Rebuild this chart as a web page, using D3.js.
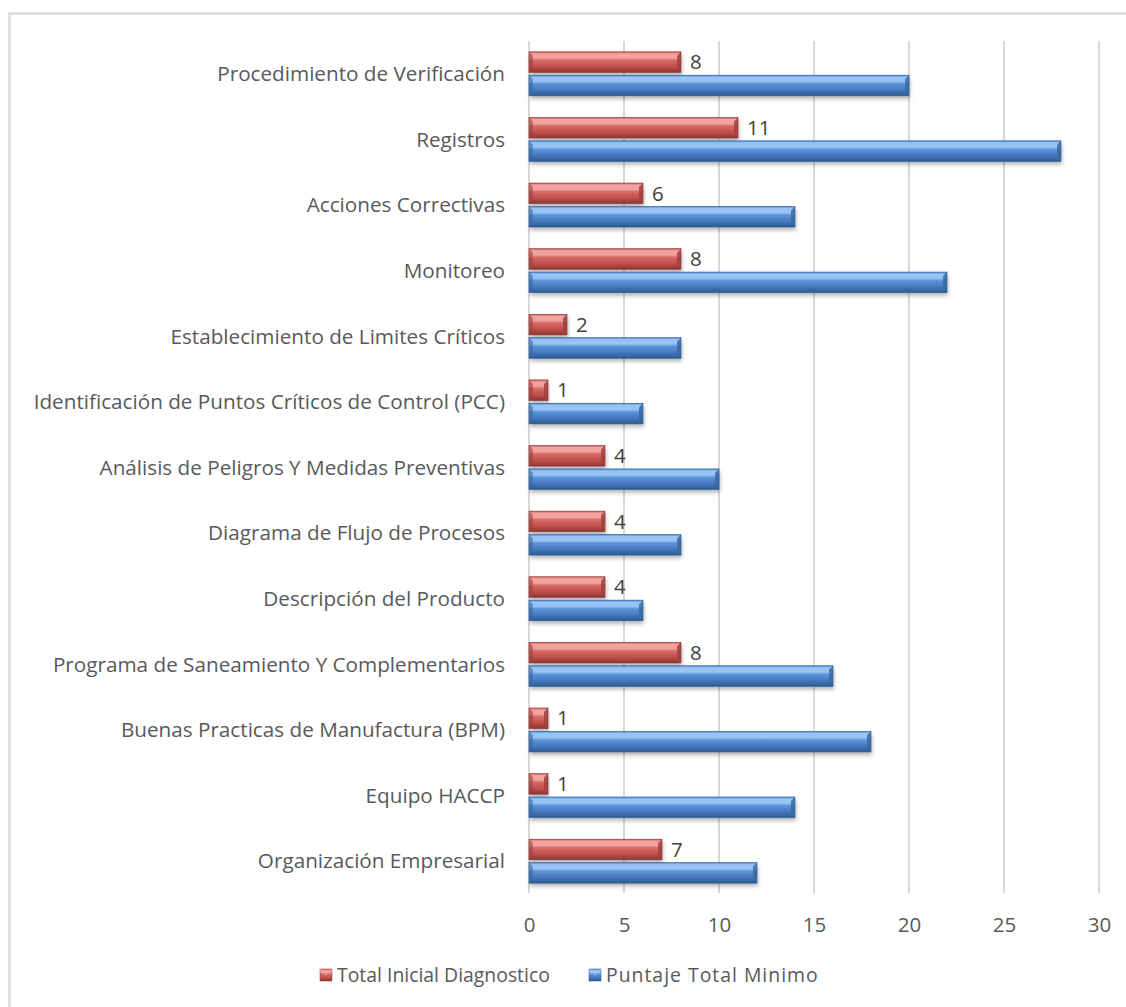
<!DOCTYPE html>
<html>
<head>
<meta charset="utf-8">
<script src="https://cdn.jsdelivr.net/npm/d3@7"></script>
<style>
  body { margin: 0; background: #fff; }
  text { font-family: "Open Sans", sans-serif; }
</style>
</head>
<body>
<script>
const width = 1126;
const height = 1007;

// data, top to bottom as drawn
const categories = [
    'Procedimiento de Verificación',
    'Registros',
    'Acciones Correctivas',
    'Monitoreo',
    'Establecimiento de Limites Críticos',
    'Identificación de Puntos Críticos de Control (PCC)',
    'Análisis de Peligros Y Medidas Preventivas',
    'Diagrama de Flujo de Procesos',
    'Descripción del Producto',
    'Programa de Saneamiento Y Complementarios',
    'Buenas Practicas de Manufactura (BPM)',
    'Equipo HACCP',
    'Organización Empresarial'
];
const series_names = ['Total Inicial Diagnostico', 'Puntaje Total Minimo'];
const total_inicial = [8, 11, 6, 8, 2, 1, 4, 4, 4, 8, 1, 1, 7];
const puntaje_minimo = [20, 28, 14, 22, 8, 6, 10, 8, 6, 16, 18, 14, 12];
const x_ticks = [0, 5, 10, 15, 20, 25, 30];

const palettes = {
    red:  { edge: '#c65a57', light: '#f2a3a0', top: '#d66a67', mid: '#c0504d', dark: '#8b3532', cap: '#a3403d' },
    blue: { edge: '#4f86cc', light: '#98c4f5', top: '#5c93da', mid: '#4678bb', dark: '#2b5a94', cap: '#3a69a5' }
};
const series_colors = ['red', 'blue'];

const svg = d3.select('body').append('svg')
    .attr('width', width)
    .attr('height', height);

const defs = svg.append('defs');

Object.entries(palettes).forEach(([name, p]) => {
    const g = defs.append('linearGradient')
        .attr('id', 'grad-' + name)
        .attr('x1', 0).attr('y1', 0).attr('x2', 0).attr('y2', 1);
    [[0, p.edge], [0.1, p.light], [0.3, p.light], [0.42, p.top], [0.72, p.mid], [1, p.dark]]
        .forEach(([o, c]) => g.append('stop').attr('offset', o).attr('stop-color', c));
});

const shadow = defs.append('filter').attr('id', 'shadow')
    .attr('x', '-5%').attr('y', '-30%').attr('width', '115%').attr('height', '190%');
shadow.append('feDropShadow')
    .attr('dx', 1).attr('dy', 3).attr('stdDeviation', 2)
    .attr('flood-color', '#000').attr('flood-opacity', 0.3);

// chart border (only left and top visible in the crop)
svg.append('path')
    .attr('d', `M9.5,${height} V13.5 H${width}`)
    .attr('fill', 'none')
    .attr('stroke', '#d9d9d9')
    .attr('stroke-width', 2.5);

const x = d3.scaleLinear().domain([0, 30]).range([529, 1099]);
const y = d3.scaleBand().domain(categories).range([41, 894])
    .paddingInner(0.33).paddingOuter(0.165);
const y_inner = d3.scaleBand().domain(series_names).range([0, y.bandwidth()]).paddingInner(0.12);

// gridlines
svg.append('g')
    .selectAll('line')
    .data(x_ticks)
    .join('line')
        .attr('x1', (d) => x(d)).attr('x2', (d) => x(d))
        .attr('y1', 41).attr('y2', 893)
        .attr('stroke', '#d9d9d9')
        .attr('stroke-width', 2);

// x axis
const x_axis = svg.append('g')
    .attr('transform', 'translate(0,925)')
    .call(d3.axisBottom(x).tickValues(x_ticks).tickSize(0).tickPadding(0));
x_axis.select('.domain').remove();
x_axis.selectAll('text')
    .attr('y', 0)
    .attr('dy', '0.35em')
    .attr('fill', '#595959')
    .style('font-size', '20.5px');

// y labels
svg.append('g')
    .selectAll('text')
    .data(categories)
    .join('text')
        .attr('x', 505)
        .attr('y', (d) => y(d) + y.bandwidth() / 2)
        .attr('dy', '0.35em')
        .attr('text-anchor', 'end')
        .attr('fill', '#595959')
        .style('font-size', '20.7px')
        .text((d) => d);

const rows = categories.map((c, i) => ({
    cat: c,
    vals: [total_inicial[i], puntaje_minimo[i]]
}));

function bar_paths(g, x0, x1, y0, h, p) {
    const b = Math.min(4, (x1 - x0) / 3);
    g.append('rect')
        .attr('x', x0).attr('y', y0)
        .attr('width', x1 - x0).attr('height', h)
        .attr('fill', `url(#grad-${p})`)
        .attr('filter', 'url(#shadow)');
    const pal = palettes[p];
    // end caps
    g.append('path')
        .attr('d', `M${x1},${y0} L${x1 - b},${y0 + b} L${x1 - b},${y0 + h - b} L${x1},${y0 + h} Z`)
        .attr('fill', pal.cap).attr('opacity', 0.85);
    g.append('path')
        .attr('d', `M${x0},${y0} L${x0 + b},${y0 + b} L${x0 + b},${y0 + h - b} L${x0},${y0 + h} Z`)
        .attr('fill', pal.cap).attr('opacity', 0.6);
    g.append('rect')
        .attr('x', x0).attr('y', y0)
        .attr('width', x1 - x0).attr('height', h)
        .attr('fill', 'none')
        .attr('stroke', pal.dark).attr('stroke-width', 0.6);
}

const row_g = svg.append('g')
    .selectAll('g')
    .data(rows)
    .join('g')
        .attr('transform', (d) => `translate(0,${y(d.cat)})`);

row_g.each(function(d) {
    const g = d3.select(this);
    d.vals.forEach((v, si) => {
        bar_paths(g, x(0), x(v), y_inner(series_names[si]), y_inner.bandwidth(), series_colors[si]);
    });
    // value label only for the first series
    g.append('text')
        .attr('x', x(d.vals[0]) + 9)
        .attr('y', y_inner(series_names[0]) + y_inner.bandwidth() / 2)
        .attr('dy', '0.35em')
        .attr('fill', '#404040')
        .style('font-size', '20.5px')
        .text(d.vals[0]);
});

// legend
const legend = svg.append('g').attr('transform', 'translate(320,975)');
const legend_x = [0, 269];
series_names.forEach((name, i) => {
    const lg = legend.append('g').attr('transform', `translate(${legend_x[i]},0)`);
    lg.append('rect')
        .attr('x', 0).attr('y', -6)
        .attr('width', 12).attr('height', 12)
        .attr('fill', `url(#grad-${series_colors[i]})`)
        .attr('stroke', palettes[series_colors[i]].dark).attr('stroke-width', 0.5);
    lg.append('path')
        .attr('d', 'M0,-6 L6,0 L12,-6')
        .attr('fill', 'none')
        .attr('stroke', palettes[series_colors[i]].light)
        .attr('stroke-width', 1);
    lg.append('text')
        .attr('x', 17).attr('y', 0)
        .attr('dy', '0.35em')
        .attr('fill', '#595959')
        .style('font-size', '19.4px')
        .style('letter-spacing', i === 1 ? '1px' : null)
        .text(name);
});
</script>
</body>
</html>
